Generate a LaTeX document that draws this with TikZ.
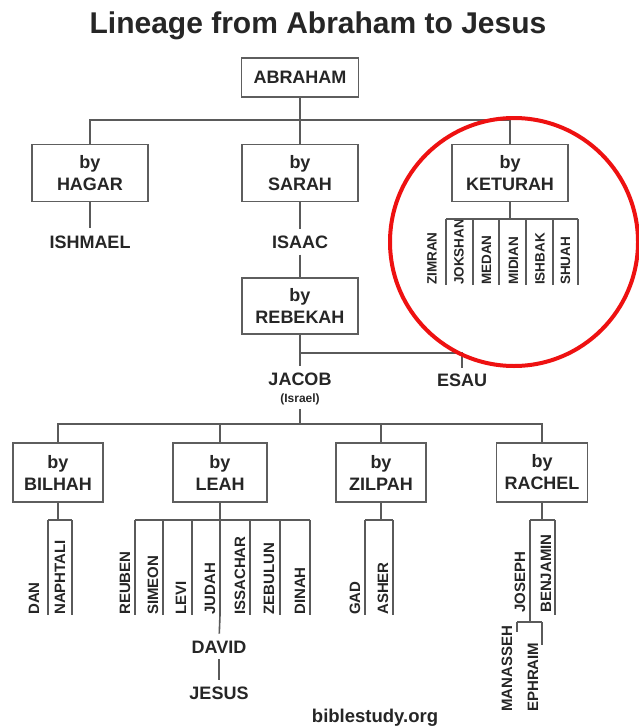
\documentclass[tikz,border=0pt]{standalone}
\usepackage{fontspec}
\setmainfont{Liberation Sans}
\definecolor{txtc}{HTML}{262626}
\definecolor{linec}{HTML}{5A5A5A}
\definecolor{boxc}{HTML}{5E5E5E}
\definecolor{ringc}{HTML}{EE1111}
\begin{document}
\begin{tikzpicture}[x=1pt,y=-1pt,
  ln/.style={draw=linec, line width=1.6pt},
  bigtxt/.style={font=\bfseries\fontsize{18}{22}\selectfont},
  famb/.style={draw=boxc, line width=1.8pt, minimum width=116pt, minimum height=57pt, inner sep=0pt, align=center, text=txtc, bigtxt},
  lowb/.style={famb, minimum width=91pt, minimum height=59pt},
  lbl/.style={text=txtc, inner sep=0pt, bigtxt},
  son/.style={text=txtc, inner sep=0pt, rotate=90, anchor=west, font=\bfseries\fontsize{15}{17}\selectfont},
  kson/.style={son, font=\bfseries\fontsize{13.5}{15}\selectfont}]
\useasboundingbox (0,0) rectangle (639,728);
\fill[white] (0,0) rectangle (639,728);

\node[text=txtc, inner sep=0pt, font=\bfseries\fontsize{30}{34}\selectfont] (title) at (318,26) {Lineage from Abraham to Jesus};

% boxes
\node[famb, minimum width=117pt, minimum height=39pt] (abraham) at (300,77.5) {ABRAHAM};
\node[famb] (hagar) at (90,173) {by\\HAGAR};
\node[famb] (sarah) at (300,173) {by\\SARAH};
\node[famb] (keturah) at (510,173) {by\\KETURAH};
\node[famb, minimum height=56pt] (rebekah) at (300,306) {by\\REBEKAH};
\node[lowb, minimum width=90pt] (bilhah) at (58,472.5) {by\\BILHAH};
\node[lowb, minimum width=94pt] (leah) at (220,472.5) {by\\LEAH};
\node[lowb, minimum width=90pt] (zilpah) at (381,472.5) {by\\ZILPAH};
\node[lowb] (rachel) at (542,472.5) {by\\RACHEL};

% plain labels
\node[lbl] (ishmael) at (90,242) {ISHMAEL};
\node[lbl] (isaac) at (300,242) {ISAAC};
\node[lbl] (jacob) at (300,379) {JACOB};
\node[text=txtc, inner sep=0pt, font=\bfseries\fontsize{12}{14}\selectfont] (israel) at (300,399) {(Israel)};
\node[lbl] (esau) at (462,380) {ESAU};
\node[lbl] (david) at (219,647) {DAVID};
\node[lbl] (jesus) at (219,693) {JESUS};
\node[text=txtc, inner sep=0pt, font=\bfseries\fontsize{18.5}{22}\selectfont] (site) at (375,718) {biblestudy.org};

% Abraham's wives
\coordinate (b1) at (300,120);
\draw[ln] (abraham.south) -- (b1);
\draw[ln] (hagar.north) |- (b1) -| (keturah.north);
\draw[ln] (sarah.north) -- (b1);
\draw[ln, shorten >=7pt] (hagar.south) -- (ishmael.north);
\draw[ln, shorten >=6pt] (sarah.south) -- (isaac.north);
\draw[ln, shorten <=6pt] (isaac.south) -- (rebekah.north);

% Rebekah's sons
\coordinate (b2) at (300,353);
\draw[ln, shorten >=6pt] (rebekah.south) -- (jacob.north);
\draw[ln, shorten >=5pt] (b2) -| (esau.north);

% Jacob's wives
\coordinate (b3) at (300,424);
\draw[ln, shorten <=4pt] (israel.south) -- (b3);
\draw[ln] (bilhah.north) |- (b3) -| (rachel.north);
\draw[ln] (leah.north) |- (b3);
\draw[ln] (zilpah.north) |- (b3);

% Keturah's sons
\foreach \n/\x/\c [count=\i] in {ZIMRAN/446/432, JOKSHAN/473/459, MEDAN/499/486.5, MIDIAN/526/513.5, ISHBAK/553/540, SHUAH/578/565.5} {
  \coordinate (kt\i) at (\x,219);
  \coordinate (kb\i) at (\x,285);
  \draw[ln] (kt\i) -- (kb\i);
  \node[kson] (k\i) at (\c,285) {\n};
}
\draw[ln] (kt1) -- (kt6);
\draw[ln] (keturah.south) -- (keturah.south |- kt1);

% Bilhah's sons
\foreach \n/\x/\c [count=\i] in {DAN/48/34, NAPHTALI/72/60} {
  \coordinate (bt\i) at (\x,520);
  \coordinate (bb\i) at (\x,615);
  \draw[ln] (bt\i) -- (bb\i);
  \node[son] (bs\i) at (\c,615) {\n};
}
\draw[ln] (bt1) -- (bt2);
\draw[ln] (bilhah.south) -- (bilhah.south |- bt1);

% Leah's sons
\foreach \n/\x/\c [count=\i] in {REUBEN/135/125, SIMEON/163/153, LEVI/192/181, JUDAH/220/210, ISSACHAR/250/240, ZEBULUN/280/269, DINAH/310/300} {
  \coordinate (lt\i) at (\x,520);
  \coordinate (lb\i) at (\x,615);
  \draw[ln] (lt\i) -- (lb\i);
  \node[son] (ls\i) at (\c,615) {\n};
}
\draw[ln] (lt1) -- (lt7);
\draw[ln] (leah.south) -- (lt4);
\draw[ln, shorten >=7pt] (lb4) -- (david.north);
\draw[ln, shorten <=6pt, shorten >=6pt] (david.south) -- (jesus.north);

% Zilpah's sons
\foreach \n/\x/\c [count=\i] in {GAD/365/355, ASHER/393/383} {
  \coordinate (zt\i) at (\x,520);
  \coordinate (zb\i) at (\x,615);
  \draw[ln] (zt\i) -- (zb\i);
  \node[son] (zs\i) at (\c,615) {\n};
}
\draw[ln] (zt1) -- (zt2);
\draw[ln] (zilpah.south) -- (zilpah.south |- zt1);

% Rachel's sons
\coordinate (rt1) at (530,520);
\coordinate (rt2) at (555,520);
\coordinate (rb1) at (530,622);
\coordinate (rb2) at (555,615);
\draw[ln] (rt1) -- (rt2);
\draw[ln] (rachel.south) -- (rachel.south |- rt1);
\draw[ln] (rt1) -- (rb1);
\draw[ln] (rt2) -- (rb2);
\node[son] (joseph) at (520,613) {JOSEPH};
\node[son] (benjamin) at (546,613) {BENJAMIN};

% Joseph's sons
\coordinate (jt1) at (517,622);
\coordinate (jt2) at (542,622);
\coordinate (jb1) at (517,632);
\coordinate (jb2) at (542,645);
\draw[ln] (jt1) -- (jt2);
\draw[ln] (jt1) -- (jb1);
\draw[ln] (jt2) -- (jb2);
\node[son] (manasseh) at (507,712) {MANASSEH};
\node[son] (ephraim) at (533,712) {EPHRAIM};

% highlight ring
\node[draw=ringc, circle, line width=4pt, minimum size=248pt, inner sep=0pt] (ring) at (514,242) {};
\end{tikzpicture}
\end{document}
